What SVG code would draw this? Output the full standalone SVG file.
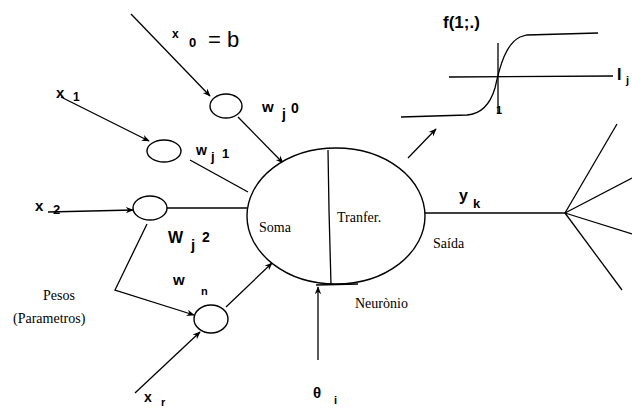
<svg xmlns="http://www.w3.org/2000/svg" width="632" height="412" viewBox="0 0 632 412">
<style>
.ln{stroke:#000;stroke-width:1.3;fill:none}
.nd{stroke:#000;stroke-width:1.4;fill:#fff}
.sf{font-family:"Liberation Serif",serif;font-size:14px;fill:#000}
.vb{font-family:"Liberation Sans",Arial,sans-serif;font-weight:bold;fill:#000}
</style>
<defs>
<marker id="ah" viewBox="0 0 10 10" refX="9" refY="5" markerWidth="8" markerHeight="8" orient="auto-start-reverse" markerUnits="userSpaceOnUse">
<path d="M0,1 L10,5 L0,9 L3,5 Z" fill="#000"/>
</marker>
</defs>
<rect width="632" height="412" fill="#fff"/>
<g id="connectors">
<line class="ln" x1="131" y1="14" x2="210" y2="96" marker-end="url(#ah)"/>
<line class="ln" x1="61" y1="97" x2="149" y2="141" marker-end="url(#ah)"/>
<line class="ln" x1="48" y1="212" x2="133" y2="210" marker-end="url(#ah)"/>
<line class="ln" x1="135" y1="393" x2="200" y2="332" marker-end="url(#ah)"/>
<line class="ln" x1="238" y1="117" x2="283" y2="163" marker-end="url(#ah)"/>
<line class="ln" x1="190" y1="160" x2="248" y2="192"/>
<line class="ln" x1="167" y1="208" x2="247" y2="208"/>
<line class="ln" x1="226" y1="307" x2="272" y2="263" marker-end="url(#ah)"/>
<polyline class="ln" points="147,224 115,290 194,315" marker-end="url(#ah)"/>
<line class="ln" x1="318" y1="360" x2="318" y2="287" marker-end="url(#ah)"/>
<line class="ln" x1="408" y1="158" x2="436" y2="129" marker-end="url(#ah)"/>
<line class="ln" x1="425" y1="213" x2="565" y2="213"/>
<line class="ln" x1="565" y1="213" x2="617" y2="124"/>
<line class="ln" x1="565" y1="213" x2="632" y2="178"/>
<line class="ln" x1="565" y1="213" x2="632" y2="234"/>
<line class="ln" x1="565" y1="213" x2="622" y2="290"/>
</g>
<g id="neuron">
<ellipse class="nd" cx="336" cy="216" rx="89" ry="68"/>
<polyline class="ln" points="328,150 329,210 331,285"/>
<line class="ln" x1="316" y1="285" x2="358" y2="284"/>
<text class="sf" x="259" y="232">Soma</text>
<text class="sf" x="337" y="222">Tranfer.</text>
<text class="sf" x="433" y="248">Saída</text>
<text class="sf" x="355" y="308">Neurònio</text>
</g>
<g id="w0">
<ellipse class="nd" cx="226" cy="106" rx="16" ry="12"/>
<text class="vb" x="262" y="112" font-size="15">w</text><text class="vb" x="282" y="119" font-size="14">j</text><text class="vb" x="291" y="113" font-size="14">0</text>
</g>
<g id="w1">
<ellipse class="nd" cx="164" cy="151" rx="17" ry="11"/>
<text class="vb" x="196" y="155" font-size="14">w</text><text class="vb" x="211" y="161" font-size="13">j</text><text class="vb" x="222" y="158" font-size="13">1</text>
</g>
<g id="w2">
<ellipse class="nd" cx="150" cy="208" rx="17" ry="12"/>
<text class="vb" x="168" y="243" font-size="16">W</text><text class="vb" x="191" y="250" font-size="15">j</text><text class="vb" x="202" y="242" font-size="14">2</text>
</g>
<g id="wn">
<ellipse class="nd" cx="211" cy="319" rx="17" ry="14"/>
<text class="vb" x="173" y="285" font-size="15">w</text><text class="vb" x="201" y="295" font-size="11">n</text>
</g>
<g id="inputs">
<text class="vb" x="172" y="38" font-size="12">x</text>
<text class="vb" x="189" y="47" font-size="13">0</text>
<text x="208" y="47" font-family="Liberation Sans,Arial,sans-serif" font-size="22" fill="#000">= b</text>
<text class="vb" x="56" y="98" font-size="15">x</text><text class="vb" x="73" y="101" font-size="12">1</text>
<text class="vb" x="35" y="211" font-size="15">x</text><text class="vb" x="53" y="214" font-size="13">2</text>
<text class="vb" x="144" y="402" font-size="14">x</text><text class="vb" x="161" y="406" font-size="11">r</text>
<text class="vb" x="313" y="398" font-size="15">θ</text><text class="vb" x="334" y="404" font-size="11">i</text>
<text class="sf" x="43" y="300">Pesos</text>
<text class="sf" x="13" y="323">(Parametros)</text>
<text class="vb" x="459" y="201" font-size="16">y</text><text class="vb" x="473" y="208" font-size="13">k</text>
</g>
<g id="transfer">
<line class="ln" x1="449" y1="77" x2="613" y2="76"/>
<line class="ln" x1="498" y1="43" x2="498" y2="113"/>
<path class="ln" d="M401,117 L467,115 C480,114 490,105 495,88 C500,65 506,44 520,37 L527,35 L598,33"/>
<text class="vb" x="443" y="28" font-size="17">f(1;.)</text>
<text class="vb" x="496" y="114" font-size="11">1</text>
<text class="vb" x="617" y="80" font-size="16">I</text><text class="vb" x="626" y="84" font-size="11">j</text>
</g>
</svg>
